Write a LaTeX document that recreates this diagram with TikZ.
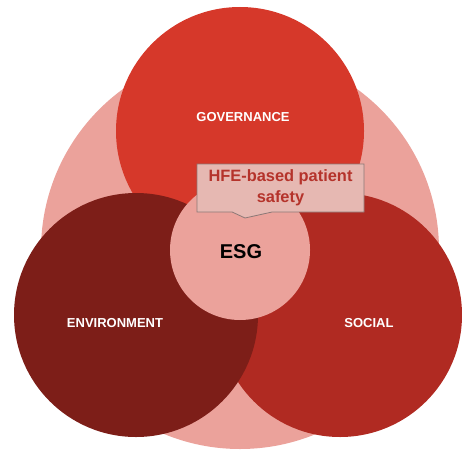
\documentclass[tikz,border=0pt]{standalone}
\usepackage{fontspec}
\setmainfont{Liberation Sans}
\usetikzlibrary{shapes.callouts}

\definecolor{ringpink}{HTML}{EBA29B}
\definecolor{govred}{HTML}{D6382A}
\definecolor{envred}{HTML}{7D1E18}
\definecolor{socred}{HTML}{B02A22}
\definecolor{notefill}{HTML}{E6B8B2}
\definecolor{noteedge}{HTML}{8C7876}
\definecolor{notetext}{HTML}{B5332B}

\begin{document}
\begin{tikzpicture}[x=1pt,y=-1pt,
    pillar/.style={text=white,font=\fontsize{13}{15}\selectfont\bfseries},
    note/.style={rectangle callout,fill=notefill,draw=noteedge,line width=0.8pt,
      text=notetext,font=\fontsize{16.4}{21}\selectfont\bfseries,align=center,
      minimum width=167pt,minimum height=48pt,inner sep=0pt,
      callout pointer width=40pt}]
  \useasboundingbox (0,0) rectangle (462,449);
  % backdrop disc and the three pillars
  \fill[ringpink] (240,250) circle[radius=199pt];
  \fill[govred] (240,131) circle[radius=124pt];
  \fill[socred] (340,315) circle[radius=122pt];
  \fill[envred] (136,315) circle[radius=122pt];
  % centre disc
  \fill[ringpink] (240,250) circle[radius=70pt];
  \node[pillar] (gov) at (243,117) {GOVERNANCE};
  \node[pillar] (env) at (115,323) {ENVIRONMENT};
  \node[pillar] (soc) at (369,323) {SOCIAL};
  \node[font=\fontsize{20}{22}\selectfont\bfseries] (esg) at (241,252) {ESG};
  \node[note,callout absolute pointer={(245,218)}] (hfe) at (280.5,188)
    {HFE-based patient\\safety};
\end{tikzpicture}
\end{document}
